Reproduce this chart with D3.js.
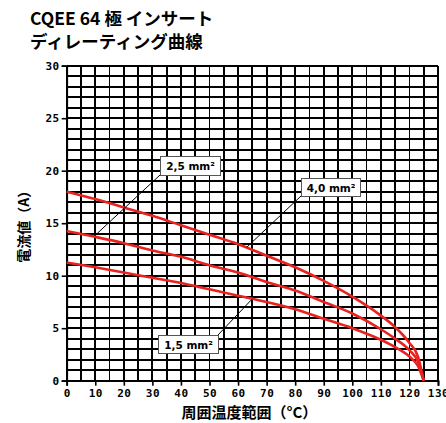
<!DOCTYPE html>
<meta charset="utf-8">
<head>
  <style>
    body { margin: 0; background: #fff; }
    .grid line { stroke: #000; stroke-width: 1.8px; shape-rendering: crispEdges; }
    .tick text { font: bold 11px "DejaVu Sans Mono", monospace; letter-spacing: 0.5px; }
    .curve { fill: none; stroke: #e8231f; stroke-width: 2.6px; }
    .leader { stroke: #000; stroke-width: 1px; }
    .box rect { fill: #fff; stroke: #555; stroke-width: 1px; }
    .box text { font: bold 10.5px "DejaVu Sans", sans-serif; }
  </style>
</head>
<body>
  <svg width="446" height="423"></svg>
  <script src="https://d3js.org/d3.v7.min.js"></script>
  <script>
    // ambient temperature (°C) and current (A)
    var temps = [0, 10, 20, 30, 40, 50, 60, 70, 80, 90, 100, 110, 115, 120, 123, 125];
    var amps40 = [18, 17.3, 16.5, 15.7, 14.8, 13.9, 13.0, 11.9, 10.8, 9.5, 8.0, 6.2, 5.1, 3.6, 2.3, 0];
    var amps25 = [14.25, 13.7, 13.1, 12.4, 11.8, 11.0, 10.3, 9.4, 8.6, 7.5, 6.4, 4.9, 4.0, 2.9, 1.8, 0];
    var amps15 = [11.25, 10.8, 10.3, 9.8, 9.3, 8.7, 8.1, 7.5, 6.8, 5.9, 5.0, 3.9, 3.2, 2.3, 1.4, 0];

    var xTicks = d3.range(0, 131, 10);
    var yTicks = d3.range(0, 31, 5);

    // label boxes: text, where the leader touches the curve (data), box top-left (px)
    var labels = [
      { text: "2,5 mm²", at: [10, 13.85], box: [160, 156], w: 60, h: 19 },
      { text: "4,0 mm²", at: [63, 12.7], box: [301, 178], w: 59, h: 18 },
      { text: "1,5 mm²", at: [65, 7.8], box: [158, 335], w: 60, h: 18 }
    ];

    var svg = d3.select("svg");
    var plotL = 66.7, plotR = 438, plotT = 65.7, plotB = 380.7;

    var x = d3.scaleLinear().domain([0, 130]).range([plotL, plotR]);
    var y = d3.scaleLinear().domain([0, 30]).range([plotB, plotT]);

    svg.append("rect").attr("width", 446).attr("height", 423).attr("fill", "#fff");

    // title
    var title = svg.append("text")
        .style("font", "bold 17.5px 'Noto Sans CJK JP', sans-serif");
    title.append("tspan").attr("x", 30).attr("y", 25).text("CQEE 64 極 インサート");
    title.append("tspan").attr("x", 30).attr("y", 48).text("ディレーティング曲線");

    // grid
    var grid = svg.append("g").attr("class", "grid");
    grid.selectAll(".v")
      .data(d3.range(0, 131, 5))
      .enter().append("line")
        .attr("x1", function(d) { return x(d); })
        .attr("x2", function(d) { return x(d); })
        .attr("y1", plotT).attr("y2", plotB);
    grid.selectAll(".h")
      .data(d3.range(0, 31, 1))
      .enter().append("line")
        .attr("y1", function(d) { return y(d); })
        .attr("y2", function(d) { return y(d); })
        .attr("x1", plotL).attr("x2", plotR);

    // axes
    svg.append("g")
        .attr("transform", "translate(0," + plotB + ")")
        .call(d3.axisBottom(x).tickValues(xTicks).tickSize(5).tickPadding(4));
    svg.append("g")
        .attr("transform", "translate(" + plotL + ",0)")
        .call(d3.axisLeft(y).tickValues(yTicks).tickSize(5).tickPadding(2));
    svg.selectAll(".domain").attr("stroke", "#000").attr("stroke-width", 1.8);
    svg.selectAll(".tick line").attr("stroke", "#000").attr("stroke-width", 1.6);

    // curves
    var line = d3.line()
        .x(function(d) { return x(d[0]); })
        .y(function(d) { return y(d[1]); })
        .curve(d3.curveMonotoneX);
    [amps40, amps25, amps15].forEach(function(series) {
      svg.append("path")
          .attr("class", "curve")
          .attr("d", line(temps.map(function(t, i) { return [t, series[i]]; })));
    });

    // labels
    labels.forEach(function(l) {
      var px = x(l.at[0]), py = y(l.at[1]);
      var bx = l.box[0], by = l.box[1];
      // leader starts at the box corner facing the curve
      var cx = px < bx ? bx : bx + l.w;
      var cy = py > by + l.h ? by + l.h : by;
      svg.append("line").attr("class", "leader")
          .attr("x1", cx).attr("y1", cy).attr("x2", px).attr("y2", py);
      var g = svg.append("g").attr("class", "box");
      g.append("rect").attr("x", bx + 0.5).attr("y", by + 0.5).attr("width", l.w).attr("height", l.h);
      g.append("text")
          .attr("x", bx + l.w / 2 + 0.5).attr("y", by + l.h / 2 + 4.5)
          .attr("text-anchor", "middle")
          .text(l.text);
    });

    // axis titles
    svg.append("text")
        .attr("x", (plotL + plotR) / 2 - 3).attr("y", 418)
        .attr("text-anchor", "middle")
        .style("font", "bold 15px 'Noto Sans CJK JP', sans-serif")
        .text("周囲温度範囲（°C）");
    svg.append("text")
        .attr("transform", "translate(29," + ((plotT + plotB) / 2) + ")rotate(-90)")
        .attr("text-anchor", "middle")
        .style("font", "bold 14px 'Noto Sans CJK JP', sans-serif")
        .text("電流値（A）");
  </script>
</body>
</html>
